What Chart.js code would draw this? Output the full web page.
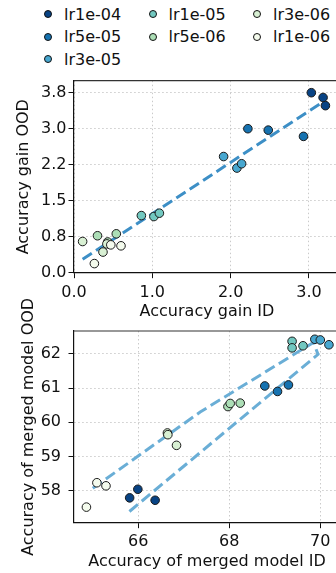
<!DOCTYPE html>
<html>
<head>
<meta charset="utf-8">
<script src="https://cdn.jsdelivr.net/npm/chart.js@4"></script>
<style>
  html, body { margin: 0; padding: 0; background: #fff; }
  body { position: relative; width: 336px; height: 573px; overflow: hidden; font-family: "DejaVu Sans", sans-serif; }
  canvas { position: absolute; left: 0; }
  #gainChart { top: 0; }
  #mergedChart { top: 285px; }
  #legend {
    position: absolute; left: 44px; top: 2.75px;
    display: grid;
    grid-template-columns: repeat(3, 104.5px);
    grid-template-rows: repeat(3, 22.5px);
    font-size: 16px; color: #111;
  }
  .item { display: flex; align-items: center; white-space: nowrap; }
  .dot { width: 6px; height: 6px; border: 1px solid #111; border-radius: 50%; margin-right: 12px; }
</style>
</head>
<body>
<div id="legend"></div>
<canvas id="gainChart" width="380" height="325"></canvas>
<canvas id="mergedChart" width="380" height="288"></canvas>
<script>
const lrLabels = ["lr1e-04", "lr5e-05", "lr3e-05", "lr1e-05", "lr5e-06", "lr3e-06", "lr1e-06"];
const lrColors = ["#084384", "#1672b0", "#47a7d0", "#72c8c0", "#acdeb6", "#d8f0d3", "#f4fbed"];

// accuracy gain over the base model, one row per learning rate
const gainId = [
  [3.03, 3.18, 3.21],
  [2.22, 2.48, 2.93],
  [1.91, 2.08, 2.14],
  [0.86, 1.02, 1.09],
  [0.30, 0.54, 0.43],
  [0.11, 0.37, 0.42],
  [0.26, 0.47, 0.60]
];
const gainOod = [
  [3.75, 3.65, 3.48],
  [3.00, 2.97, 2.84],
  [2.42, 2.18, 2.27],
  [1.19, 1.17, 1.24],
  [0.77, 0.81, 0.64],
  [0.65, 0.43, 0.60],
  [0.19, 0.58, 0.56]
];
const gainFitX = [0.11, 3.20];
const gainFitY = [0.28, 3.58];

const gainXTicks = [0, 1, 2, 3];
const gainXTickLabels = ["0.0", "1.0", "2.0", "3.0"];
const gainYTicks = [0, 0.75, 1.5, 2.25, 3.0, 3.75];
const gainYTickLabels = ["0.0", "0.8", "1.5", "2.2", "3.0", "3.8"];

// accuracy of the merged model
const mergedId = [
  [65.81, 65.99, 66.37],
  [68.78, 69.06, 69.30],
  [69.88, 70.00, 70.19],
  [69.38, 69.38, 69.62],
  [67.97, 68.02, 68.24],
  [66.64, 66.65, 66.84],
  [64.86, 65.09, 65.29]
];
const mergedOod = [
  [57.80, 58.05, 57.73],
  [61.06, 60.90, 61.09],
  [62.42, 62.40, 62.26],
  [62.36, 62.17, 62.23],
  [60.46, 60.55, 60.56],
  [59.69, 59.64, 59.33],
  [57.53, 58.24, 58.15]
];
const mergedFitX = [65.00, 67.36, 69.85, 69.95, 65.73];
const mergedFitY = [58.08, 60.30, 62.33, 61.98, 57.32];

const mergedXTicks = [66, 68, 70];
const mergedXTickLabels = ["66", "68", "70"];
const mergedYTicks = [58, 59, 60, 61, 62];
const mergedYTickLabels = ["58", "59", "60", "61", "62"];

const FONT = { family: "DejaVu Sans", size: 16 };
const INK = "#111";

// legend in 3 columns, filled top to bottom (3 + 2 + 2 entries)
const legendEl = document.getElementById("legend");
lrLabels.forEach((label, i) => {
  const col = i < 3 ? 0 : 1 + Math.floor((i - 3) / 2);
  const row = i < 3 ? i : (i - 3) % 2;
  const item = document.createElement("div");
  item.className = "item";
  item.style.gridColumn = col + 1;
  item.style.gridRow = row + 1;
  const dot = document.createElement("span");
  dot.className = "dot";
  dot.style.background = lrColors[i];
  item.appendChild(dot);
  item.appendChild(document.createTextNode(label));
  legendEl.appendChild(item);
});

// top and right spines
const framePlugin = {
  id: "frame",
  afterDraw(chart) {
    const { ctx, chartArea: a } = chart;
    ctx.save();
    ctx.strokeStyle = "#333";
    ctx.lineWidth = 1.2;
    ctx.beginPath();
    ctx.moveTo(a.left, a.top);
    ctx.lineTo(a.right, a.top);
    ctx.lineTo(a.right, a.bottom);
    ctx.stroke();
    ctx.restore();
  }
};

function pointSets(xs, ys) {
  return lrLabels.map((label, i) => ({
    type: "scatter",
    label,
    data: xs[i].map((x, j) => ({ x, y: ys[i][j] })),
    backgroundColor: lrColors[i],
    borderColor: "#1a1a1a",
    borderWidth: 1,
    pointRadius: 4.3,
    order: lrLabels.length - i
  }));
}

function fitSet(xs, ys, color) {
  return {
    type: "line",
    data: xs.map((x, j) => ({ x, y: ys[j] })),
    borderColor: color,
    borderWidth: 3,
    borderDash: [11, 5],
    pointRadius: 0,
    fill: false,
    tension: 0,
    order: 20
  };
}

function axis(opts) {
  return {
    type: "linear",
    min: opts.min,
    max: opts.max,
    afterBuildTicks: (s) => { s.ticks = opts.ticks.map((v) => ({ value: v })); },
    afterFit: opts.afterFit,
    ticks: {
      autoSkip: false,
      maxRotation: 0,
      padding: opts.tickPad,
      color: INK,
      font: FONT,
      callback: (v, i) => opts.labels[i]
    },
    grid: {
      color: "#c4c4c4",
      lineWidth: 0.9,
      tickColor: INK,
      tickLength: 5.5,
      tickWidth: 1,
      tickBorderDash: []
    },
    border: { color: INK, width: 1.2, dash: [1.5, 2.5] },
    title: {
      display: true,
      text: opts.title,
      color: INK,
      font: FONT,
      padding: opts.titlePad
    }
  };
}

// plot area runs from x=74 to x=340, a little past the page edge
function makeChart(id, datasets, xAxis, yAxis, padTop) {
  return new Chart(document.getElementById(id), {
    data: { datasets },
    options: {
      responsive: false,
      animation: false,
      events: [],
      layout: { padding: { top: padTop, right: 40, bottom: 0, left: 0 } },
      plugins: { legend: { display: false }, tooltip: { enabled: false } },
      scales: { x: xAxis, y: yAxis }
    },
    plugins: [framePlugin]
  });
}

makeChart(
  "gainChart",
  [fitSet(gainFitX, gainFitY, "#3d8fc6"), ...pointSets(gainId, gainOod)],
  axis({
    min: 0, max: 3.396, ticks: gainXTicks, labels: gainXTickLabels, tickPad: 4.7,
    title: "Accuracy gain ID", titlePad: { top: 0, bottom: 3.4 },
    afterFit: (s) => { s.height = 52.3; }
  }),
  axis({
    min: 0, max: 4.0, ticks: gainYTicks, labels: gainYTickLabels, tickPad: 2,
    title: "Accuracy gain OOD", titlePad: { top: 14, bottom: 0 },
    afterFit: (s) => { s.width = 74; }
  }),
  80.7
);

makeChart(
  "mergedChart",
  [fitSet(mergedFitX, mergedFitY, "#6aaed6"), ...pointSets(mergedId, mergedOod)],
  axis({
    min: 64.587, max: 70.433, ticks: mergedXTicks, labels: mergedXTickLabels, tickPad: 4.4,
    title: "Accuracy of merged model ID", titlePad: { top: 0, bottom: 1.7 },
    afterFit: (s) => { s.height = 50.3; }
  }),
  axis({
    min: 57.076, max: 62.661, ticks: mergedYTicks, labels: mergedYTickLabels, tickPad: 7.5,
    title: "Accuracy of merged model OOD", titlePad: { top: 19, bottom: 0 },
    afterFit: (s) => { s.width = 74; }
  }),
  46
);
</script>
</body>
</html>
